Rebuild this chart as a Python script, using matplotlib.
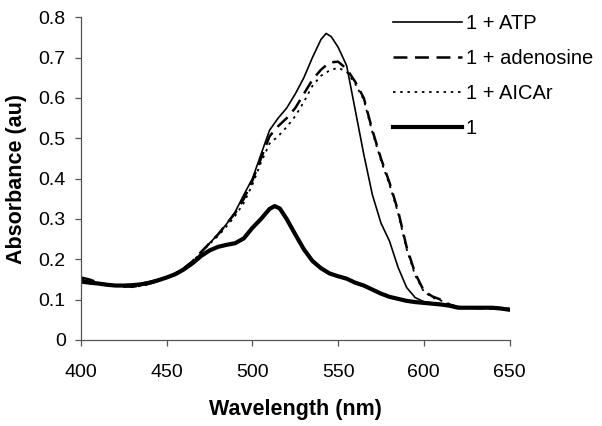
import matplotlib
matplotlib.use("Agg")
import matplotlib.pyplot as plt

plt.rcParams['font.family'] = ['Liberation Sans', 'DejaVu Sans']
plt.rcParams['lines.scale_dashes'] = False

# ---- data ----
wl_atp = [400, 405, 410, 415, 420, 425, 430, 435, 440, 445, 450, 455, 460, 465, 470,
          475, 480, 485, 490, 495, 500, 505, 510, 515, 520, 525, 530, 535, 540, 543,
          546, 550, 555, 560, 565, 570, 575, 580, 585, 590, 595, 600, 605, 610, 615,
          620, 625, 630, 635, 640, 645, 650]
abs_atp = [0.150, 0.145, 0.140, 0.138, 0.135, 0.135, 0.137, 0.140, 0.145, 0.150, 0.155,
           0.165, 0.178, 0.192, 0.215, 0.240, 0.262, 0.288, 0.318, 0.360, 0.400, 0.460,
           0.520, 0.550, 0.575, 0.610, 0.650, 0.700, 0.745, 0.760, 0.752, 0.726, 0.680,
           0.570, 0.460, 0.360, 0.290, 0.245, 0.180, 0.130, 0.105, 0.095, 0.092, 0.090,
           0.085, 0.080, 0.080, 0.080, 0.080, 0.082, 0.080, 0.078]

wl_ado = [400, 405, 410, 415, 420, 425, 430, 435, 440, 445, 450, 455, 460, 465, 470,
          475, 480, 485, 490, 495, 500, 505, 510, 515, 520, 525, 530, 535, 540, 545,
          550, 555, 560, 565, 570, 575, 580, 585, 590, 595, 600, 605, 610, 615, 620,
          625, 630, 635, 640, 645, 650]
abs_ado = [0.155, 0.150, 0.142, 0.138, 0.135, 0.133, 0.132, 0.135, 0.140, 0.147, 0.155,
           0.165, 0.178, 0.195, 0.218, 0.240, 0.262, 0.288, 0.315, 0.350, 0.395, 0.450,
           0.505, 0.530, 0.550, 0.575, 0.610, 0.645, 0.670, 0.688, 0.690, 0.672, 0.640,
           0.600, 0.520, 0.450, 0.390, 0.320, 0.230, 0.165, 0.122, 0.108, 0.100, 0.088,
           0.082, 0.080, 0.080, 0.078, 0.078, 0.078, 0.076]

wl_aic = wl_ado
abs_aic = [0.150, 0.147, 0.141, 0.137, 0.134, 0.132, 0.131, 0.134, 0.139, 0.146, 0.154,
           0.164, 0.177, 0.194, 0.217, 0.238, 0.258, 0.282, 0.308, 0.340, 0.385, 0.440,
           0.487, 0.505, 0.528, 0.555, 0.590, 0.630, 0.655, 0.668, 0.675, 0.665, 0.635,
           0.595, 0.515, 0.445, 0.385, 0.315, 0.225, 0.160, 0.120, 0.105, 0.098, 0.087,
           0.081, 0.080, 0.079, 0.078, 0.077, 0.077, 0.075]

wl_one = [400, 405, 410, 415, 420, 425, 430, 435, 440, 445, 450, 455, 460, 465, 470,
          475, 480, 485, 490, 495, 500, 505, 510, 513, 516, 520, 525, 530, 535, 540,
          545, 550, 555, 560, 565, 570, 575, 580, 585, 590, 595, 600, 605, 610, 615,
          620, 625, 630, 635, 640, 645, 650]
abs_one = [0.145, 0.142, 0.140, 0.137, 0.135, 0.135, 0.136, 0.138, 0.142, 0.148, 0.155,
           0.163, 0.175, 0.190, 0.208, 0.222, 0.231, 0.236, 0.240, 0.252, 0.278, 0.300,
           0.325, 0.332, 0.326, 0.300, 0.262, 0.225, 0.196, 0.178, 0.165, 0.158, 0.152,
           0.142, 0.135, 0.125, 0.115, 0.107, 0.102, 0.097, 0.094, 0.092, 0.090, 0.088,
           0.085, 0.080, 0.080, 0.080, 0.080, 0.080, 0.078, 0.075]

labels = ['1 + ATP', '1 + adenosine', '1 + AICAr', '1']
x_ticks = [400, 450, 500, 550, 600, 650]
y_ticks = [0, 0.1, 0.2, 0.3, 0.4, 0.5, 0.6, 0.7, 0.8]

fig = plt.figure(figsize=(6.02, 4.26), dpi=100)
ax = fig.add_axes([81 / 602, 1 - 340 / 426, (509.5 - 81) / 602, (340 - 17.3) / 426])

ax.plot(wl_atp, abs_atp, color='black', lw=1.2, label=labels[0])
ax.plot(wl_ado, abs_ado, color='black', lw=1.8, dashes=(10, 5.5), label=labels[1])
ax.plot(wl_aic, abs_aic, color='black', lw=1.3, dashes=(1.8, 3.4), label=labels[2])
ax.plot(wl_one, abs_one, color='black', lw=3.0, label=labels[3])

ax.set_xlim(400, 650)
ax.set_ylim(0, 0.8)
ax.set_xticks(x_ticks)
ax.set_xticklabels([str(t) for t in x_ticks])
ax.set_yticks(y_ticks)
ax.set_yticklabels(['0'] + ['%.1f' % t for t in y_ticks[1:]])

for s in ['top', 'right']:
    ax.spines[s].set_visible(False)
for s in ['left', 'bottom']:
    ax.spines[s].set_color('#555555')
    ax.spines[s].set_linewidth(0.9)

ax.tick_params(axis='both', direction='out', length=4, width=0.9, color='#555555',
               labelsize=14)
ax.tick_params(axis='y', pad=7)
ax.tick_params(axis='x', pad=13)

ax.set_xlabel('Wavelength (nm)', fontsize=15.5, fontweight='bold', labelpad=13)
ax.set_ylabel('Absorbance (au)', fontsize=15.5, fontweight='bold', labelpad=8)

leg = fig.legend(loc='upper left', bbox_to_anchor=(393 / 602, 1 - 14 / 426),
                 frameon=False, fontsize=14.5, handlelength=3.45, handletextpad=0.15,
                 labelspacing=0.8, borderpad=0, borderaxespad=0)

fig.savefig('out.png', dpi=100)
